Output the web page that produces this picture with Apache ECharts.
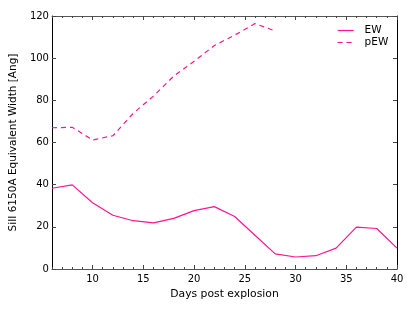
<!DOCTYPE html>
<html>
<head>
<meta charset="utf-8">
<script src="https://cdn.jsdelivr.net/npm/echarts@6/dist/echarts.min.js"></script>
<style>html,body{margin:0;padding:0;background:#fff}#c{width:415px;height:311px}</style>
</head>
<body>
<div id="c"></div>
<script>
var days = [6, 8, 10, 12, 14, 16, 18, 20, 22, 24, 26, 28, 30, 32, 34, 36, 38, 40];
var ew = [38.3, 39.9, 31.4, 25.5, 22.9, 21.9, 24.0, 27.7, 29.6, 24.9, 16.0, 7.2, 5.7, 6.3, 9.9, 19.9, 19.2, 9.9];
var pewDays = [6, 8, 10, 12, 14, 16, 18, 20, 22, 24, 26, 28];
var pew = [67.0, 67.2, 61.2, 63.2, 73.8, 82.0, 91.5, 98.5, 106.0, 110.9, 116.4, 112.9];
var xMajorTicks = [10, 15, 20, 25, 30, 35, 40];
var seriesNames = ['EW', 'pEW'];

var font = 'DejaVu Sans';
var pink = '#ff1493';
function pairs(xs, ys) { return xs.map(function (x, i) { return [x, ys[i]]; }); }

var chart = echarts.init(document.getElementById('c'), null, { renderer: 'canvas' });
var baseX = { type: 'value', min: 6, max: 40, splitLine: { show: false } };
chart.setOption({
  animation: false,
  textStyle: { fontFamily: font },
  grid: { left: 49, right: 18, top: 16, bottom: 42, containLabel: false },
  legend: {
    orient: 'vertical', left: 332, top: 20, itemWidth: 16, itemHeight: 10, itemGap: 1,
    itemStyle: { opacity: 0 },
    lineStyle: { width: 1.2 },
    textStyle: { fontFamily: font, fontSize: 10.5, color: '#000', padding: [0, 0, 0, 6] },
    data: seriesNames
  },
  xAxis: [
    Object.assign({}, baseX, {
      position: 'bottom', interval: 1,
      name: 'Days post explosion', nameLocation: 'middle', nameGap: 20,
      nameTextStyle: { fontFamily: font, fontSize: 10.8, color: '#000' },
      axisLine: { show: true, lineStyle: { color: '#555', width: 1 } },
      axisTick: { show: true, inside: true, length: 2, lineStyle: { color: '#444' } },
      axisLabel: { show: true, customValues: xMajorTicks, fontFamily: font, fontSize: 10, color: '#000', margin: 5 }
    }),
    Object.assign({}, baseX, {
      position: 'bottom', interval: 1,
      axisLine: { show: false },
      axisTick: { show: true, inside: true, length: 4, customValues: xMajorTicks, lineStyle: { color: '#444' } },
      axisLabel: { show: false }
    }),
    Object.assign({}, baseX, {
      position: 'top', interval: 1,
      axisLine: { show: true, lineStyle: { color: '#555', width: 1 } },
      axisTick: { show: true, inside: true, length: 2, lineStyle: { color: '#444' } },
      axisLabel: { show: false }
    }),
    Object.assign({}, baseX, {
      position: 'top', interval: 1,
      axisLine: { show: false },
      axisTick: { show: true, inside: true, length: 4, customValues: xMajorTicks, lineStyle: { color: '#444' } },
      axisLabel: { show: false }
    })
  ],
  yAxis: [
    {
      type: 'value', min: 0, max: 120, interval: 20, position: 'left',
      name: 'SiII 6150A Equivalent Width [Ang]', nameLocation: 'middle', nameGap: 27,
      nameTextStyle: { fontFamily: font, fontSize: 10.5, color: '#000' },
      splitLine: { show: false },
      axisLine: { show: true, lineStyle: { color: '#000', width: 1 } },
      axisTick: { show: true, inside: true, length: 4, lineStyle: { color: '#444' } },
      axisLabel: { fontFamily: font, fontSize: 10, color: '#000', margin: 3 }
    },
    {
      type: 'value', min: 0, max: 120, interval: 20, position: 'right',
      splitLine: { show: false },
      axisLine: { show: true, lineStyle: { color: '#000', width: 1 } },
      axisTick: { show: true, inside: true, length: 4, lineStyle: { color: '#444' } },
      axisLabel: { show: false }
    }
  ],
  series: [
    {
      name: seriesNames[0], type: 'line', data: pairs(days, ew), symbol: 'none',
      lineStyle: { color: pink, width: 1.2 }, itemStyle: { color: pink }
    },
    {
      name: seriesNames[1], type: 'line', data: pairs(pewDays, pew), symbol: 'none',
      lineStyle: { color: pink, width: 1.2, type: [5, 4] }, itemStyle: { color: pink }
    }
  ]
});
</script>
</body>
</html>
